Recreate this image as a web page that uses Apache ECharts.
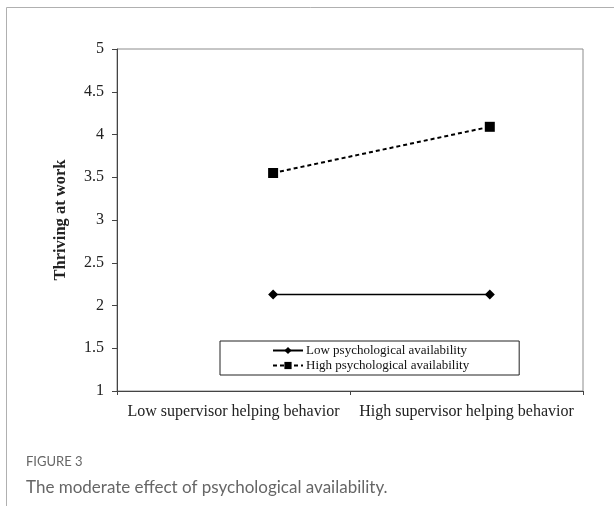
<!DOCTYPE html>
<html>
<head>
<meta charset="utf-8">
<script src="https://cdn.jsdelivr.net/npm/echarts@6/dist/echarts.min.js"></script>
<style>
html,body{margin:0;padding:0;background:#fff;}
#main{width:614px;height:506px;}
</style>
</head>
<body>
<div id="main"></div>
<script>
var categories = ['Low supervisor helping behavior', 'High supervisor helping behavior'];
var xPositions = [0.67, 1.6];
var lowAvailability = [2.13, 2.13];
var highAvailability = [3.55, 4.09];
var yTicks = {min: 1, max: 5, interval: 0.5};
var seriesNames = ['Low psychological availability', 'High psychological availability'];
var figureLabel = 'FIGURE 3';
var figureCaption = 'The moderate effect of psychological availability.';

function pairs(xs, ys) { return xs.map(function (x, i) { return [x, ys[i]]; }); }

var serif = 'Liberation Serif';
var chart = echarts.init(document.getElementById('main'), null, {renderer: 'canvas'});
chart.setOption({
  animation: false,
  backgroundColor: '#fff',
  grid: {left: 117, right: 31, top: 49, bottom: 115, show: true, borderColor: '#8c8c8c', borderWidth: 1, backgroundColor: 'transparent'},
  legend: {
    orient: 'vertical',
    left: 220, top: 341,
    padding: [3, 50, 3, 52],
    itemGap: 2,
    itemWidth: 30, itemHeight: 9,
    borderColor: '#222', borderWidth: 1,
    textStyle: {fontFamily: serif, fontSize: 13, color: '#111', padding: [0, 0, 0, -2]},
    data: seriesNames
  },
  xAxis: [{
    type: 'category',
    data: categories,
    boundaryGap: true,
    axisLine: {lineStyle: {color: '#444', width: 1}},
    axisTick: {show: true, length: 4, lineStyle: {color: '#444'}},
    axisLabel: {fontFamily: serif, fontSize: 16, color: '#222', margin: 13, interval: 0},
    splitLine: {show: false}
  }, {
    type: 'value', min: 0, max: 2, show: false
  }],
  yAxis: {
    type: 'value',
    min: yTicks.min, max: yTicks.max, interval: yTicks.interval,
    name: 'Thriving at work',
    nameLocation: 'middle',
    nameGap: 48,
    nameTextStyle: {fontFamily: serif, fontSize: 16.5, fontWeight: 'bold', color: '#222'},
    axisLine: {show: true, lineStyle: {color: '#444', width: 1}},
    axisTick: {show: true, length: 5, lineStyle: {color: '#444'}},
    axisLabel: {fontFamily: serif, fontSize: 16, color: '#222', margin: 13},
    splitLine: {show: false}
  },
  series: [{
    name: seriesNames[0],
    type: 'line',
    xAxisIndex: 1,
    data: pairs(xPositions, lowAvailability),
    symbol: 'diamond', symbolSize: 10,
    itemStyle: {color: '#000'},
    lineStyle: {color: '#000', width: 1.5, type: 'solid'}
  }, {
    name: seriesNames[1],
    type: 'line',
    xAxisIndex: 1,
    data: pairs(xPositions, highAvailability),
    symbol: 'rect', symbolSize: 10,
    itemStyle: {color: '#000'},
    lineStyle: {color: '#000', width: 2, type: [4, 3]}
  }],
  graphic: [
    {type: 'line', shape: {x1: 6.5, y1: 7.5, x2: 614, y2: 7.5}, style: {stroke: '#b0b0b0', lineWidth: 1}},
    {type: 'line', shape: {x1: 6.5, y1: 7.5, x2: 6.5, y2: 506}, style: {stroke: '#b0b0b0', lineWidth: 1}},
    {type: 'text', left: 26, top: 455, style: {text: figureLabel, fontFamily: 'Lato', fontSize: 13, fill: '#666'}},
    {type: 'text', left: 26, top: 479, style: {text: figureCaption, fontFamily: 'Lato', fontSize: 17, fill: '#666'}}
  ]
});
</script>
</body>
</html>
